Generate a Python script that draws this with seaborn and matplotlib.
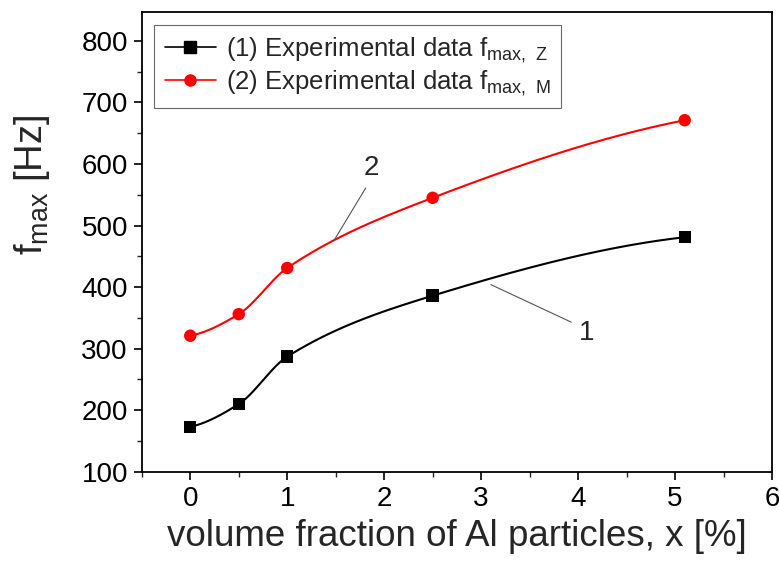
import numpy as np
import pandas as pd
import matplotlib
matplotlib.use("Agg")
import matplotlib.pyplot as plt
from matplotlib.lines import Line2D
import seaborn as sns

# Data
x_vals = [0.0, 0.5, 1.0, 2.5, 5.1]
f_max_z = [173, 210, 287, 386, 481]
f_max_m = [321, 356, 431, 545, 671]
labels = ["(1) Experimental data f$_{\\mathregular{max,\\ Z}}$",
          "(2) Experimental data f$_{\\mathregular{max,\\ M}}$"]
x_ticks = [0, 1, 2, 3, 4, 5, 6]
y_ticks = [100, 200, 300, 400, 500, 600, 700, 800]


def pchip(x, y, xs):
    x = np.asarray(x, float); y = np.asarray(y, float)
    h = np.diff(x); d = np.diff(y) / h
    n = len(x); m = np.zeros(n)
    for k in range(1, n - 1):
        if d[k - 1] * d[k] > 0:
            w1 = 2 * h[k] + h[k - 1]; w2 = h[k] + 2 * h[k - 1]
            m[k] = (w1 + w2) / (w1 / d[k - 1] + w2 / d[k])
    m[0] = ((2 * h[0] + h[1]) * d[0] - h[0] * d[1]) / (h[0] + h[1])
    m[-1] = ((2 * h[-1] + h[-2]) * d[-1] - h[-1] * d[-2]) / (h[-1] + h[-2])
    out = np.empty_like(xs)
    for i, xv in enumerate(xs):
        k = min(np.searchsorted(x, xv, side="right") - 1, n - 2)
        t = (xv - x[k]) / h[k]
        h00 = 2 * t**3 - 3 * t**2 + 1; h10 = t**3 - 2 * t**2 + t
        h01 = -2 * t**3 + 3 * t**2; h11 = t**3 - t**2
        out[i] = h00 * y[k] + h10 * h[k] * m[k] + h01 * y[k + 1] + h11 * h[k] * m[k + 1]
    return out


sns.set_style("ticks")
plt.rcParams["font.family"] = ["Liberation Sans", "DejaVu Sans"]
plt.rcParams["mathtext.fontset"] = "custom"
plt.rcParams["mathtext.rm"] = "Liberation Sans"

fig = plt.figure(figsize=(7.79, 5.65), dpi=100)
ax = fig.add_axes([0.182, 0.165, 0.809, 0.814])

xs = np.linspace(x_vals[0], x_vals[-1], 300)
curve = pd.DataFrame({"x": np.concatenate([xs, xs]),
                      "y": np.concatenate([pchip(x_vals, f_max_z, xs), pchip(x_vals, f_max_m, xs)]),
                      "s": ["Z"] * len(xs) + ["M"] * len(xs)})
pts = pd.DataFrame({"x": x_vals * 2, "y": f_max_z + f_max_m,
                    "s": ["Z"] * len(x_vals) + ["M"] * len(x_vals)})
pal = {"Z": "black", "M": "#ff0000"}
sns.lineplot(data=curve, x="x", y="y", hue="s", palette=pal, lw=1.5, legend=False, ax=ax, sort=False)
sns.scatterplot(data=pts, x="x", y="y", hue="s", style="s", markers={"Z": "s", "M": "o"},
                palette=pal, s=80, edgecolor="none", legend=False, ax=ax, zorder=3)

ax.set_xlim(-0.5, 6)
ax.set_ylim(100, 847)
ax.set_xticks(x_ticks)
ax.set_yticks(y_ticks)
ax.set_xticks(np.arange(-0.5, 6.01, 0.5), minor=True)
ax.set_yticks(np.arange(100, 846, 50), minor=True)
ax.tick_params(axis="both", which="major", direction="out", length=6, width=1.2, labelsize=20,
               colors="black", pad=4)
ax.tick_params(axis="both", which="minor", direction="out", length=3.5, width=1.0)
for sp in ax.spines.values():
    sp.set_linewidth(1.3)
    sp.set_color("black")

ax.set_xlabel("volume fraction of Al particles, x [%]", fontsize=26.5, labelpad=5)
ax.set_ylabel("f$_{\\mathregular{max}}$ [Hz]", fontsize=27.5)
ax.yaxis.set_label_coords(-0.143, 0.625)

handles = [Line2D([0], [0], color="black", marker="s", markersize=8, lw=1.2),
           Line2D([0], [0], color="#ff0000", marker="o", markersize=8, lw=1.2)]
leg = ax.legend(handles, labels, loc="upper left", bbox_to_anchor=(0.02, 0.972), fontsize=18.5,
                frameon=True, fancybox=False, edgecolor="#444444", handlelength=2.0,
                handletextpad=0.4, borderpad=0.4, labelspacing=0.12, borderaxespad=0)
leg.get_frame().set_linewidth(0.8)

ax.plot([1.48, 1.81], [475, 561], color="#555555", lw=0.8)
ax.text(1.87, 593, "2", fontsize=20, ha="center", va="center")
ax.plot([3.10, 3.93], [404, 343], color="#555555", lw=0.8)
ax.text(4.09, 326, "1", fontsize=20, ha="center", va="center")

fig.savefig("out.png", dpi=100)
